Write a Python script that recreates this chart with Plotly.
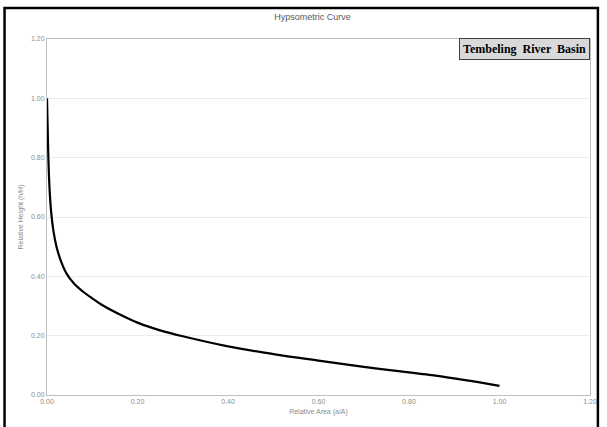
import plotly.graph_objects as go

rel_area = [0.0, 0.0015, 0.003, 0.0055, 0.009, 0.014, 0.021, 0.03, 0.043, 0.06, 0.08,
            0.1, 0.12, 0.16, 0.2, 0.25, 0.3, 0.4, 0.5, 0.6, 0.7, 0.8, 0.85, 0.9, 0.95, 1.0]
rel_height = [1.0, 0.9, 0.8, 0.7, 0.62, 0.555, 0.5, 0.455, 0.41, 0.375, 0.348,
              0.326, 0.305, 0.272, 0.244, 0.218, 0.198, 0.164, 0.138, 0.116, 0.095, 0.076, 0.067, 0.056, 0.044, 0.031]
tick_vals = [0.0, 0.2, 0.4, 0.6, 0.8, 1.0, 1.2]
tick_text = ["0.00", "0.20", "0.40", "0.60", "0.80", "1.00", "1.20"]

fig = go.Figure()
fig.add_trace(go.Scatter(x=rel_area, y=rel_height, mode="lines",
                         line=dict(color="black", width=2.2, shape="spline", smoothing=1.0),
                         showlegend=False))

axis_font = dict(family="Liberation Sans, Arial", size=7, color="#8c8c8c")
fig.update_layout(
    width=607, height=427,
    margin=dict(l=47, r=10, t=39, b=32),
    paper_bgcolor="white", plot_bgcolor="white",
    title=dict(text="Hypsometric Curve", x=0.515, xanchor="center", y=1 - 17 / 427, yanchor="middle",
               font=dict(family="Liberation Sans, Arial", size=9, color="#595959")),
    xaxis=dict(range=[0, 1.2], tickvals=tick_vals, ticktext=tick_text, showgrid=False,
               showline=True, linecolor="#bfbfbf", linewidth=1, mirror=True, zeroline=False,
               tickfont=axis_font, ticks="", ticklen=0,
               title=dict(text="Relative Area (a/A)", font=axis_font, standoff=4)),
    yaxis=dict(range=[0, 1.2], tickvals=tick_vals, ticktext=tick_text, showgrid=True,
               gridcolor="#ececec", gridwidth=1,
               showline=True, linecolor="#bfbfbf", linewidth=1, mirror=True, zeroline=False,
               tickfont=axis_font, ticks="", ticklen=0,
               title=dict(text="Relative Height (h/H)", font=axis_font, standoff=6)),
)

fig.add_shape(type="rect", xref="paper", yref="paper",
              x0=(4 - 47) / 550, x1=(605 - 47) / 550, y0=(395 - 440) / 356, y1=(395 - 8) / 356,
              line=dict(color="black", width=2.5), fillcolor="rgba(0,0,0,0)", layer="above")

fig.add_annotation(text="Tembeling  River  Basin", xref="paper", yref="paper",
                   x=1.0, xanchor="right", y=(395 - 38) / 356, yanchor="top",
                   showarrow=False, bgcolor="#d9d9d9", bordercolor="#404040", borderwidth=1,
                   borderpad=3,
                   font=dict(family="Liberation Serif, Times New Roman", size=12, color="black",
                             weight="bold"))

fig.write_html("out.html")
